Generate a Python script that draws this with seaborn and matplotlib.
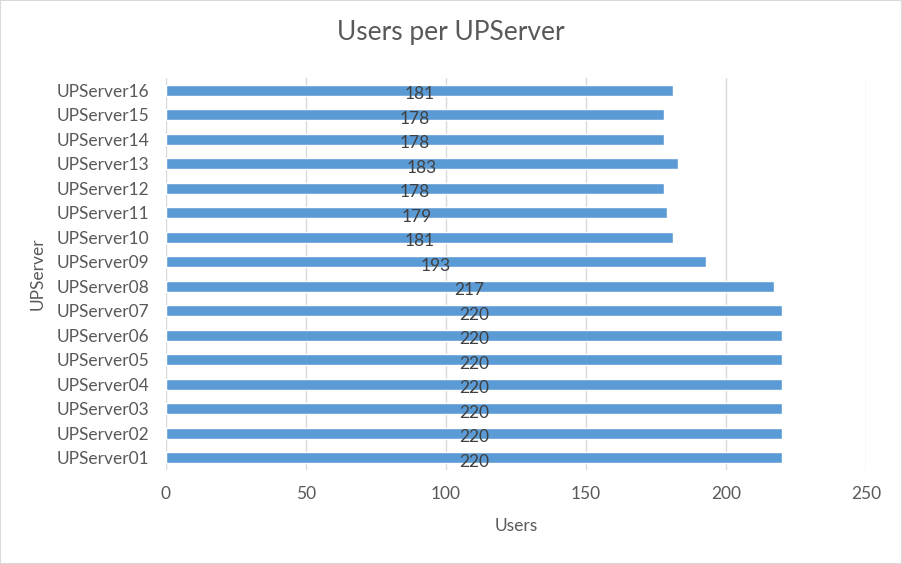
import pandas as pd
import matplotlib.pyplot as plt
import seaborn as sns
from matplotlib.patches import Rectangle

servers = ["UPServer16", "UPServer15", "UPServer14", "UPServer13", "UPServer12",
           "UPServer11", "UPServer10", "UPServer09", "UPServer08", "UPServer07",
           "UPServer06", "UPServer05", "UPServer04", "UPServer03", "UPServer02",
           "UPServer01"]
users = [181, 178, 178, 183, 178, 179, 181, 193, 217, 220, 220, 220, 220, 220, 220, 220]
x_ticks = [0, 50, 100, 150, 200, 250]

df = pd.DataFrame({"server": servers, "users": users})

sns.set_style("white")
plt.rcParams["font.family"] = ["Lato", "DejaVu Sans"]

fig = plt.figure(figsize=(9.02, 5.64), dpi=100)
ax = fig.add_axes([0.184, 0.167, 0.776, 0.695])

sns.barplot(data=df, x="users", y="server", order=servers, color="#5B9BD5",
            width=0.45, saturation=1, ax=ax)

# data labels sit in the middle of each bar
for i, v in enumerate(users):
    ax.annotate(str(v), (v / 2, i), xytext=(0, -3), textcoords="offset points",
                ha="center", va="center", fontsize=12.5, color="#404040")

ax.set_xlim(0, 250)
ax.set_xticks(x_ticks)
ax.grid(axis="x", color="#D9D9D9", linewidth=1)
ax.set_axisbelow(True)
for s in ax.spines.values():
    s.set_visible(False)
ax.tick_params(axis="both", length=0, labelsize=12.5, labelcolor="#595959")
ax.tick_params(axis="x", pad=12)
ax.tick_params(axis="y", pad=12)

fig.suptitle("Users per UPServer", fontsize=19, color="#595959", x=0.5, y=0.965)
ax.set_xlabel("Users", fontsize=12.5, color="#595959", labelpad=11)
ax.set_ylabel("UPServer", fontsize=12.5, color="#595959", labelpad=8)

fig.patches.append(Rectangle((0, 0), 1, 1, transform=fig.transFigure, fill=False,
                             edgecolor="#D9D9D9", linewidth=1.5))

plt.savefig("out.png", dpi=100)
